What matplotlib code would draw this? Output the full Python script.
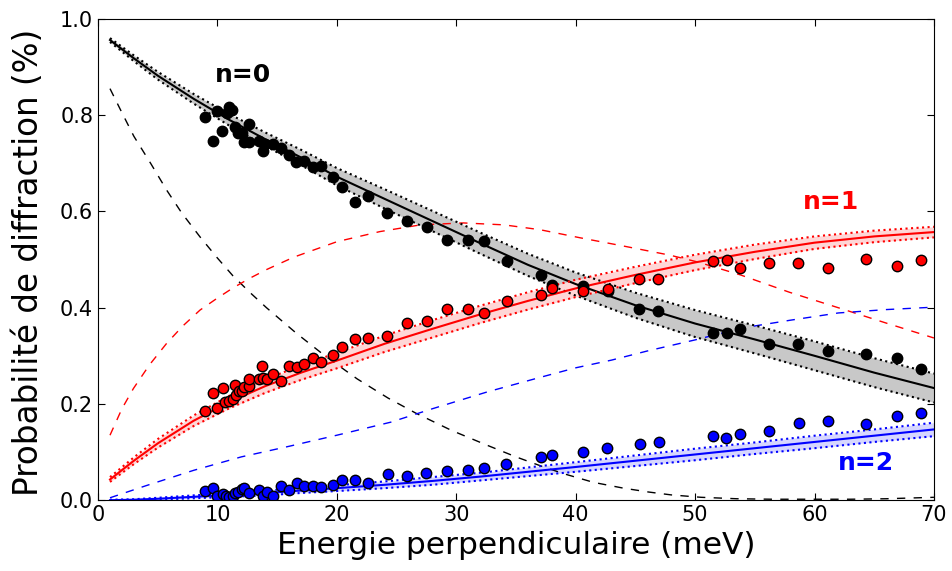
"""
Probabilite de diffraction vs energie perpendiculaire (n=0,1,2)
"""

import numpy as np
import matplotlib
matplotlib.use("Agg")
import matplotlib.pyplot as plt

# measured points, n=0
e0 = [8.96, 9.63, 9.96, 10.38, 10.80, 10.97, 11.22, 11.47, 11.72, 12.06, 12.22, 12.64, 12.64,
      13.48, 13.82, 13.98, 14.65, 15.32, 15.99, 16.58, 17.25, 18.0, 18.67, 19.68, 20.43, 21.52,
      22.61, 24.2, 25.87, 27.55, 29.22, 30.98, 32.32, 34.25, 37.09, 38.0, 40.6, 42.7, 45.3, 46.9,
      51.5, 52.7, 53.8, 56.2, 58.6, 61.1, 64.3, 66.9, 68.9]
p0 = [0.796, 0.746, 0.809, 0.767, 0.805, 0.817, 0.811, 0.775, 0.763, 0.763, 0.744, 0.782, 0.744,
      0.746, 0.726, 0.740, 0.740, 0.732, 0.717, 0.703, 0.705, 0.692, 0.694, 0.672, 0.651, 0.620,
      0.632, 0.597, 0.580, 0.568, 0.540, 0.540, 0.538, 0.497, 0.468, 0.447, 0.445, 0.435, 0.397, 0.393,
      0.347, 0.347, 0.355, 0.324, 0.324, 0.310, 0.304, 0.296, 0.272]

# measured points, n=1
e1 = [8.96, 9.63, 9.96, 10.47, 10.63, 10.97, 11.3, 11.47, 11.55, 11.8, 12.06, 12.22, 12.64, 12.64,
      13.48, 13.73, 13.82, 14.15, 14.65, 15.32, 15.99, 16.66, 17.25, 18.0, 18.67, 19.68, 20.43,
      21.52, 22.61, 24.2, 25.87, 27.55, 29.22, 30.98, 32.32, 34.25, 37.09, 38.0, 40.6, 42.7, 45.3,
      46.9, 51.5, 52.7, 53.8, 56.2, 58.6, 61.1, 64.3, 66.9, 68.9]
p1 = [0.185, 0.222, 0.191, 0.233, 0.204, 0.206, 0.210, 0.239, 0.218, 0.227, 0.227, 0.235, 0.237, 0.252,
      0.252, 0.279, 0.253, 0.251, 0.262, 0.248, 0.279, 0.277, 0.282, 0.295, 0.287, 0.301, 0.318,
      0.334, 0.337, 0.341, 0.368, 0.372, 0.397, 0.397, 0.388, 0.414, 0.426, 0.441, 0.435, 0.439, 0.459,
      0.459, 0.497, 0.499, 0.482, 0.493, 0.492, 0.482, 0.501, 0.486, 0.499]

# measured points, n=2
e2 = [8.96, 9.63, 9.96, 10.47, 10.72, 10.97, 11.3, 11.47, 11.72, 12.06, 12.22, 12.64, 13.48, 13.82,
      14.15, 14.65, 15.32, 15.99, 16.66, 17.25, 18.0, 18.67, 19.68, 20.43, 21.52, 22.61, 24.3,
      25.9, 27.5, 29.2, 31.0, 32.3, 34.2, 37.1, 38.0, 40.6, 42.6, 45.4, 47.0, 51.5, 52.6, 53.8,
      56.2, 58.7, 61.1, 64.3, 66.9, 68.9]
p2 = [0.019, 0.025, 0.008, 0.012, 0.008, 0.006, 0.008, 0.015, 0.017, 0.023, 0.025, 0.015, 0.021, 0.008,
      0.017, 0.008, 0.029, 0.021, 0.035, 0.029, 0.029, 0.027, 0.031, 0.042, 0.042, 0.035, 0.054,
      0.050, 0.056, 0.061, 0.062, 0.066, 0.075, 0.089, 0.094, 0.100, 0.108, 0.116, 0.121, 0.133, 0.129, 0.137,
      0.144, 0.160, 0.164, 0.158, 0.175, 0.181]

# fitted curves with their uncertainty bands
fe = [1, 3, 5, 8, 11, 14, 17, 20, 24, 28, 32, 36, 40, 45, 50, 55, 60, 65, 70]
fit0 = [0.956, 0.918, 0.882, 0.834, 0.790, 0.750, 0.712, 0.672, 0.626, 0.580, 0.534, 0.489, 0.449,
        0.405, 0.367, 0.334, 0.300, 0.265, 0.233]
up0 = [0.960, 0.924, 0.890, 0.844, 0.802, 0.764, 0.728, 0.690, 0.646, 0.601, 0.556, 0.512, 0.473,
       0.431, 0.395, 0.363, 0.330, 0.295, 0.263]
lo0 = [0.952, 0.912, 0.874, 0.824, 0.778, 0.736, 0.696, 0.654, 0.606, 0.559, 0.512, 0.466, 0.425,
       0.379, 0.339, 0.305, 0.270, 0.235, 0.203]
fit1 = [0.043, 0.082, 0.118, 0.165, 0.204, 0.237, 0.265, 0.290, 0.325, 0.356, 0.386, 0.414, 0.440,
        0.468, 0.494, 0.516, 0.535, 0.548, 0.557]
up1 = [0.048, 0.089, 0.127, 0.176, 0.217, 0.251, 0.280, 0.306, 0.342, 0.374, 0.404, 0.432, 0.458,
       0.485, 0.510, 0.531, 0.548, 0.560, 0.568]
lo1 = [0.038, 0.075, 0.109, 0.154, 0.191, 0.223, 0.250, 0.274, 0.308, 0.338, 0.368, 0.396, 0.422,
       0.451, 0.478, 0.501, 0.522, 0.536, 0.546]
fit2 = [0.000, 0.001, 0.003, 0.007, 0.011, 0.015, 0.020, 0.025, 0.032, 0.040, 0.049, 0.059, 0.069,
        0.082, 0.095, 0.108, 0.121, 0.134, 0.147]
up2 = [0.001, 0.002, 0.005, 0.010, 0.015, 0.020, 0.025, 0.031, 0.039, 0.048, 0.057, 0.068, 0.079,
       0.093, 0.107, 0.120, 0.134, 0.147, 0.161]
lo2 = [-0.001, 0.000, 0.001, 0.004, 0.007, 0.010, 0.015, 0.019, 0.025, 0.032, 0.041, 0.050, 0.059,
       0.071, 0.083, 0.096, 0.108, 0.121, 0.133]

# model curves (dashed)
de0 = [1, 2, 3, 4.4, 5.75, 7, 8.54, 10, 11.3, 12.7, 14.1, 16.6, 19, 21.7, 24.3, 26.6, 29.6, 32.6,
       35, 37.1, 39, 41.5, 44, 46.1, 48, 50.5, 53.5, 56.5, 60, 63, 66, 70]
dm0 = [0.855, 0.805, 0.756, 0.700, 0.644, 0.597, 0.547, 0.503, 0.466, 0.432, 0.400, 0.347, 0.300,
       0.252, 0.212, 0.181, 0.145, 0.114, 0.090, 0.071, 0.055, 0.037, 0.025, 0.017, 0.011, 0.006,
       0.003, 0.002, 0.002, 0.002, 0.003, 0.006]
de1 = [1, 2, 2.96, 4.3, 5.75, 7.1, 8.54, 10, 11.3, 12.7, 14.1, 16.4, 20, 23.6, 27, 30.6, 34, 37,
       40.4, 44, 47.9, 50.2, 53.8, 57.9, 62.1, 66, 70]
dm1 = [0.135, 0.190, 0.232, 0.281, 0.326, 0.362, 0.395, 0.420, 0.441, 0.461, 0.479, 0.505, 0.537,
       0.558, 0.572, 0.576, 0.572, 0.562, 0.545, 0.528, 0.509, 0.495, 0.468, 0.432, 0.399, 0.368, 0.337]
de2 = [1, 4, 8, 12, 16, 20, 24.5, 28, 32.6, 37, 40, 43, 46, 50, 54, 58, 62, 66, 70]
dm2 = [0.005, 0.030, 0.062, 0.090, 0.112, 0.135, 0.162, 0.190, 0.225, 0.255, 0.275, 0.291, 0.310,
       0.333, 0.358, 0.374, 0.389, 0.396, 0.401]

fig = plt.figure(figsize=(9.52, 5.71), dpi=100)
ax = fig.add_axes([0.103, 0.124, 0.878, 0.843])

ax.plot(de0, dm0, color='k', lw=1, dashes=(6, 6))
ax.plot(de1, dm1, color='r', lw=1, dashes=(6, 6))
ax.plot(de2, dm2, color='b', lw=1, dashes=(6, 6))

for fit, up, lo, c, fc in [(fit0, up0, lo0, 'k', '#c8c8c8'),
                           (fit1, up1, lo1, 'r', '#ffd6d6'),
                           (fit2, up2, lo2, 'b', '#d6d6ff')]:
    ax.fill_between(fe, lo, up, color=fc, lw=0)
    ax.plot(fe, up, color=c, lw=1.5, ls=':')
    ax.plot(fe, lo, color=c, lw=1.5, ls=':')
    ax.plot(fe, fit, color=c, lw=1.5)

ax.plot(e0, p0, 'o', color='k', mec='k', ms=7.5, mew=1)
ax.plot(e1, p1, 'o', color='r', mec='k', ms=7.5, mew=1)
ax.plot(e2, p2, 'o', color='b', mec='k', ms=7.5, mew=1)

ax.text(12.1, 0.884, 'n=0', color='k', fontsize=18, fontweight='bold', ha='center', va='center')
ax.text(61.4, 0.62, 'n=1', color='r', fontsize=18, fontweight='bold', ha='center', va='center')
ax.text(64.3, 0.077, 'n=2', color='b', fontsize=18, fontweight='bold', ha='center', va='center')

ax.set_xlim(0, 70)
ax.set_ylim(0, 1.0)
ax.set_xticks(range(0, 71, 10))
ax.set_yticks(np.arange(0, 1.01, 0.2))
ax.set_yticklabels(['0.0', '0.2', '0.4', '0.6', '0.8', '1.0'])
ax.tick_params(direction='in', top=True, right=True, length=5, labelsize=15)
ax.set_xlabel('Energie perpendiculaire (meV)', fontsize=22.5)
ax.set_ylabel('Probabilité de diffraction (%)', fontsize=23.5)
ax.yaxis.set_label_coords(-0.064, 0.495)

plt.savefig('out.png', dpi=100)
